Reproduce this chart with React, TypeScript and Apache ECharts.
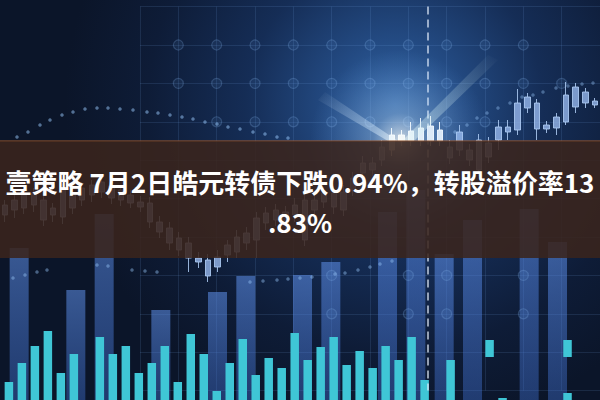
import React, { useEffect, useRef } from "react";
import * as echarts from "echarts";

// ---- title ----
const titleLines = ["壹策略 7月2日皓元转债下跌0.94%，转股溢价率13", ".83%"];

// ---- translucent background columns (height from bottom) ----
const columnHeights = [152, 0, 110, 186, 0, 90, 0, 108, 124, 0, 125, 138, 0, 188, 210, 146, 180, 0, 191, 158, 0];

// ---- cyan volume bars (height from bottom) ----
const volumeHeights = [18, 37, 54, 69, 27, 46, 0, 63, 46, 54, 27, 37, 54, 18, 66, 46, 9, 37, 61, 25, 42, 32, 67, 40, 53, 63, 35, 49, 32, 54, 40, 63, 20, 0, 40, 0, 0, 0, 2, 0, 0, 0, 0, 7, 0, 0];
const floatBase = [0, 0, 0, 0, 0, 0, 0, 0, 0, 0, 0, 0, 0, 0, 0, 0, 0, 0, 0, 0, 0, 0, 0, 0, 0, 0, 0, 0, 0, 0, 0, 0, 0, 0, 0, 0, 0, 43, 0, 0, 0, 0, 0, 43, 0, 0];
const floatSize = [0, 0, 0, 0, 0, 0, 0, 0, 0, 0, 0, 0, 0, 0, 0, 0, 0, 0, 0, 0, 0, 0, 0, 0, 0, 0, 0, 0, 0, 0, 0, 0, 0, 0, 0, 0, 0, 17, 0, 0, 0, 0, 0, 17, 0, 0];

// ---- candlesticks (price levels) ----
const candleOpen = [185, 190, 192, 195, 180, 185, 183, 192, 200, 205, 208, 202, 200, 197, 193, 178, 168, 157, 150, 142, 138, 124, 133, 145, 148, 157, 160, 177, 180, 175, 185, 160, 190, 198, 193, 190, 210, 227, 230, 240, 250, 259, 259, 259, 259, 259, 242, 250, 240, 230, 243, 260, 268, 270, 292, 271, 271, 272, 278, 293, 297, 295];
const candleClose = [195, 200, 205, 207, 200, 192, 210, 205, 212, 215, 218, 214, 210, 205, 198, 197, 178, 172, 162, 157, 142, 140, 143, 155, 163, 167, 182, 187, 190, 188, 195, 200, 200, 207, 207, 208, 222, 237, 237, 253, 265, 265, 269, 272, 274, 270, 253, 268, 250, 260, 257, 273, 273, 297, 303, 297, 275, 283, 305, 313, 308, 299];
const candleLow = [178, 182, 186, 188, 174, 178, 176, 186, 194, 198, 202, 196, 194, 192, 188, 172, 162, 150, 144, 128, 132, 118, 128, 138, 142, 150, 142, 170, 174, 168, 178, 154, 184, 192, 186, 184, 204, 220, 224, 234, 244, 254, 254, 254, 254, 254, 236, 244, 234, 224, 237, 250, 260, 265, 287, 260, 267, 265, 275, 287, 292, 292];
const candleHigh = [200, 205, 210, 212, 205, 197, 216, 212, 218, 220, 224, 220, 215, 210, 204, 203, 184, 178, 168, 163, 148, 146, 150, 160, 170, 173, 188, 193, 196, 194, 202, 206, 206, 213, 214, 215, 228, 244, 243, 260, 272, 270, 278, 282, 284, 278, 260, 275, 256, 266, 263, 280, 280, 311, 307, 301, 279, 287, 318, 317, 312, 302];
const brightCandles = [40, 41, 42, 43, 44, 45];

// ---- dotted trend lines (x px, level) ----
const dotsAX = [17, 28, 40, 50, 62, 73, 85, 97, 108, 120, 133, 147, 158, 170, 182, 193, 205, 217, 228, 240, 253, 265, 277, 288];
const dotsAY = [263, 268, 275, 280, 285, 288, 291, 292, 292, 291, 290, 288, 287, 285, 283, 281, 278, 276, 273, 271, 268, 266, 263, 262];
const dotsBX = [455, 467, 477, 487, 498, 510, 522, 533, 543, 556, 568, 582, 593];
const dotsBY = [268, 275, 282, 287, 292, 297, 303, 305, 308, 312, 314, 316, 317];
const dotsCX = [13, 25, 37, 47, 97, 108, 132, 145, 157, 250, 263, 277, 288, 300, 312, 335, 345, 358, 370, 380, 392];
const dotsCY = [122, 125, 128, 130, 135, 134, 130, 129, 128, 118, 119, 120, 121, 122, 123, 126, 127, 130, 133, 136, 139];

// ---- grid pattern nodes (column, row) ----
const nodeCols = [1, 2, 3, 4, 5, 6, 7, 8, 9, 10, 1, 2, 3, 4, 5, 6, 7, 8, 9, 10, 11, 2, 3, 4, 5, 6, 7, 8, 9, 5, 7, 8, 10, 5, 7, 8, 10];
const nodeRows = [1, 1, 1, 1, 1, 1, 1, 1, 1, 1, 2, 2, 2, 2, 2, 2, 2, 2, 2, 2, 2, 3, 3, 3, 3, 3, 3, 3, 3, 7, 7, 7, 7, 8, 8, 8, 8];
const dashedLineCol = 7.5;

const hiddenCat = (n: number, gridIndex: number) => ({
  type: "category" as const,
  gridIndex,
  data: Array.from({ length: n }, (_, i) => String(i)),
  show: false,
});
const hiddenVal = (gridIndex: number, min: number, max: number) => ({
  type: "value" as const,
  gridIndex,
  min,
  max,
  show: false,
  splitLine: { show: false },
});

export default function App() {
  const ref = useRef<HTMLDivElement>(null);
  useEffect(() => {
    document.body.style.margin = "0";
    if (!ref.current) return;
    const chart = echarts.init(ref.current, null, { renderer: "svg" });

    const candleData = candleOpen.map((o, i) => {
      const v = [o, candleClose[i], candleLow[i], candleHigh[i]];
      if (brightCandles.includes(i)) {
        return {
          value: v,
          itemStyle: {
            color: "rgba(240,244,250,0.95)",
            color0: "rgba(240,244,250,0.95)",
            borderColor: "rgba(255,255,255,0.95)",
            borderColor0: "rgba(255,255,255,0.95)",
          },
        };
      }
      return v;
    });

    const option: any = {
      animation: false,
      backgroundColor: new echarts.graphic.RadialGradient(
        395,
        105,
        330,
        [
          { offset: 0, color: "#3366a6" },
          { offset: 0.2, color: "#234a82" },
          { offset: 0.45, color: "#152d56" },
          { offset: 0.75, color: "#0e1c37" },
          { offset: 1, color: "#0b1529" },
        ],
        true
      ),
      grid: [
        { left: 5, top: 0, width: 609, height: 400 },
        { left: -4.6, top: 0, width: 604.5, height: 400 },
        { left: 0, top: 0, width: 600, height: 400 },
        { left: 2.4, top: 0, width: 608.6, height: 400 },
        { left: 140, top: 6.6, width: 480, height: 384 },
      ],
      xAxis: [
        hiddenCat(columnHeights.length, 0),
        hiddenCat(candleOpen.length, 1),
        { ...hiddenVal(2, 0, 600) },
        hiddenCat(volumeHeights.length, 3),
        {
          type: "value",
          gridIndex: 4,
          min: 0,
          max: 12,
          interval: 1,
          axisLine: { show: false },
          axisTick: { show: false },
          axisLabel: { show: false },
          splitLine: { show: true, lineStyle: { color: "rgba(120,170,235,0.14)", width: 1 } },
        },
      ],
      yAxis: [
        hiddenVal(0, 0, 400),
        hiddenVal(1, 0, 400),
        hiddenVal(2, 0, 400),
        hiddenVal(3, 0, 400),
        {
          type: "value",
          gridIndex: 4,
          min: 0,
          max: 10,
          interval: 1,
          inverse: true,
          axisLine: { show: false },
          axisTick: { show: false },
          axisLabel: { show: false },
          splitLine: { show: true, lineStyle: { color: "rgba(120,170,235,0.14)", width: 1 } },
        },
      ],
      series: [
        {
          type: "scatter",
          xAxisIndex: 4,
          yAxisIndex: 4,
          data: nodeCols.map((c, i) => [c, nodeRows[i]]),
          symbol: "circle",
          symbolSize: 10,
          itemStyle: {
            color: "rgba(110,160,225,0.12)",
            borderColor: "rgba(140,185,240,0.3)",
            borderWidth: 1.2,
          },
          silent: true,
          markLine: {
            silent: true,
            symbol: ["none", "none"],
            label: { show: false },
            lineStyle: { color: "rgba(225,235,250,0.8)", type: [8, 5], width: 1.6 },
            data: [{ xAxis: dashedLineCol }],
          },
        },
        {
          type: "bar",
          xAxisIndex: 0,
          yAxisIndex: 0,
          data: columnHeights,
          barWidth: 19,
          itemStyle: {
            color: new echarts.graphic.LinearGradient(0, 0, 0, 1, [
              { offset: 0, color: "rgba(95,145,235,0.55)" },
              { offset: 1, color: "rgba(65,115,215,0.4)" },
            ]),
          },
          silent: true,
        },
        {
          type: "candlestick",
          xAxisIndex: 1,
          yAxisIndex: 1,
          data: candleData,
          barWidth: 6,
          itemStyle: {
            color: "rgba(150,182,235,0.8)",
            color0: "rgba(150,182,235,0.8)",
            borderColor: "rgba(175,205,245,0.85)",
            borderColor0: "rgba(175,205,245,0.85)",
            borderWidth: 1,
          },
          silent: true,
        },
        {
          type: "scatter",
          xAxisIndex: 2,
          yAxisIndex: 2,
          data: dotsAX.map((x, i) => [x, dotsAY[i]]),
          symbolSize: 3.5,
          itemStyle: { color: "rgba(150,195,245,0.65)" },
          silent: true,
        },
        {
          type: "scatter",
          xAxisIndex: 2,
          yAxisIndex: 2,
          data: dotsBX.map((x, i) => [x, dotsBY[i]]),
          symbolSize: 3.5,
          itemStyle: { color: "rgba(150,195,245,0.5)" },
          silent: true,
        },
        {
          type: "scatter",
          xAxisIndex: 2,
          yAxisIndex: 2,
          data: dotsCX.map((x, i) => [x, dotsCY[i]]),
          symbolSize: 3.5,
          itemStyle: { color: "rgba(150,195,245,0.55)" },
          silent: true,
        },
        {
          type: "bar",
          xAxisIndex: 3,
          yAxisIndex: 3,
          data: volumeHeights,
          barWidth: 8.5,
          barGap: "-100%",
          itemStyle: { color: "#3fc6d6" },
          silent: true,
        },
        {
          type: "bar",
          xAxisIndex: 3,
          yAxisIndex: 3,
          stack: "float",
          data: floatBase,
          barWidth: 8.5,
          itemStyle: { color: "rgba(0,0,0,0)" },
          silent: true,
        },
        {
          type: "bar",
          xAxisIndex: 3,
          yAxisIndex: 3,
          stack: "float",
          data: floatSize,
          barWidth: 8.5,
          itemStyle: { color: "#3fc6d6" },
          silent: true,
        },
      ],
      graphic: [
        {
          type: "circle",
          z: 10,
          silent: true,
          shape: { cx: 400, cy: 140, r: 90 },
          style: {
            fill: new echarts.graphic.RadialGradient(0.5, 0.5, 0.5, [
              { offset: 0, color: "rgba(255,255,250,0.75)" },
              { offset: 0.3, color: "rgba(200,230,255,0.3)" },
              { offset: 1, color: "rgba(120,180,255,0)" },
            ]),
          },
        },
        {
          type: "polygon",
          z: 9,
          silent: true,
          shape: { points: [[398, 141], [325, 92], [318, 100], [388, 141]] },
          style: {
            fill: new echarts.graphic.LinearGradient(1, 1, 0, 0, [
              { offset: 0, color: "rgba(230,245,255,0.55)" },
              { offset: 1, color: "rgba(230,245,255,0)" },
            ]),
          },
        },
        {
          type: "polygon",
          z: 9,
          silent: true,
          shape: { points: [[402, 141], [488, 55], [498, 60], [414, 141]] },
          style: {
            fill: new echarts.graphic.LinearGradient(0, 1, 1, 0, [
              { offset: 0, color: "rgba(220,245,240,0.5)" },
              { offset: 1, color: "rgba(220,245,240,0)" },
            ]),
          },
        },
        {
          type: "rect",
          z: 100,
          silent: true,
          shape: { x: 0, y: 141, width: 600, height: 117 },
          style: { fill: "rgba(58,36,29,0.88)" },
        },
        {
          type: "rect",
          z: 101,
          silent: true,
          shape: { x: 0, y: 140, width: 600, height: 1.5 },
          style: { fill: "rgba(150,85,45,0.55)" },
        },
        {
          type: "text",
          z: 110,
          silent: true,
          style: {
            text: titleLines[0],
            x: 300,
            y: 181,
            fill: "#ffffff",
            fontSize: 26,
            fontWeight: "bold",
            fontFamily: '"Noto Sans CJK SC", "Noto Sans", sans-serif',
            textAlign: "center",
            textVerticalAlign: "middle",
            align: "center",
            verticalAlign: "middle",
          },
        },
        {
          type: "text",
          z: 110,
          silent: true,
          style: {
            text: titleLines[1],
            x: 300,
            y: 221,
            fill: "#ffffff",
            fontSize: 26,
            fontWeight: "bold",
            fontFamily: '"Noto Sans CJK SC", "Noto Sans", sans-serif',
            textAlign: "center",
            textVerticalAlign: "middle",
            align: "center",
            verticalAlign: "middle",
          },
        },
      ],
    };

    chart.setOption(option);
    return () => {
      chart.dispose();
    };
  }, []);

  return <div ref={ref} style={{ width: 600, height: 400 }} />;
}
